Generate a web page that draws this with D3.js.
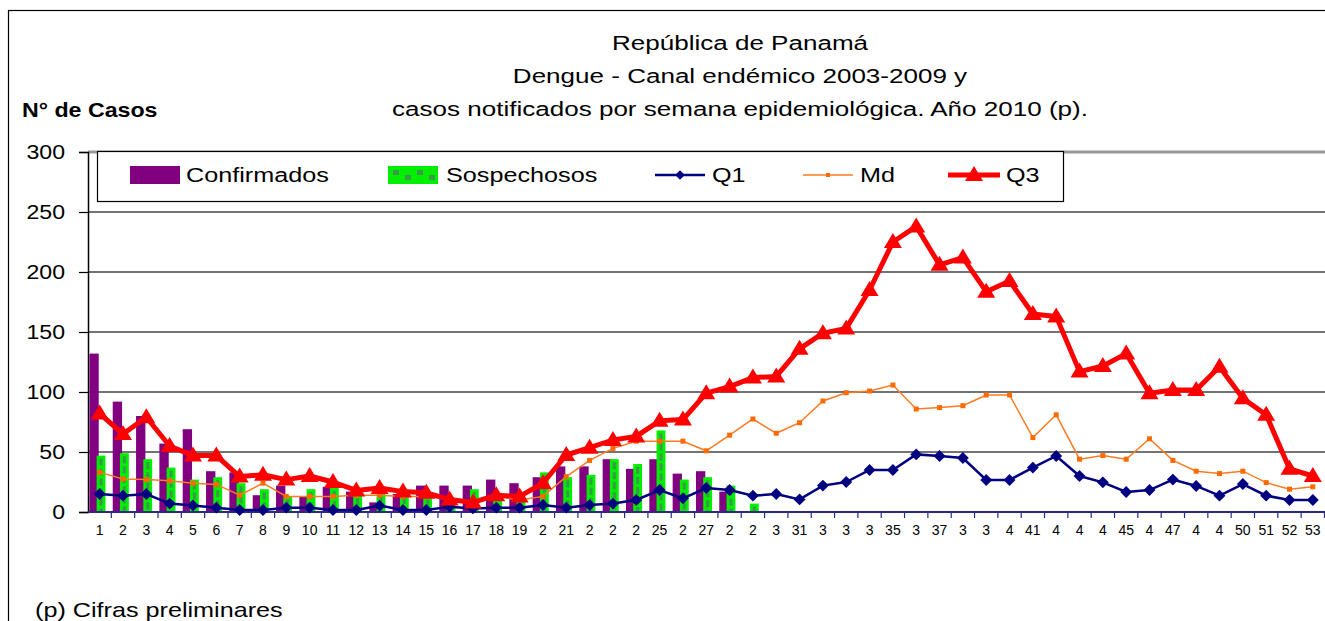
<!DOCTYPE html>
<html><head><meta charset="utf-8">
<script src="https://cdn.jsdelivr.net/npm/d3@7"></script>
<style>body{margin:0;background:#fff}svg{display:block}text{font-family:"Liberation Sans",Arial,sans-serif}</style>
</head><body><svg id="c" width="1325" height="621"></svg>
<script>
const weeks = d3.range(1, 54);
const weekLabels = ["1","2","3","4","5","6","7","8","9","10","11","12","13","14","15","16","17","18","19","2","21","2","2","2","25","2","27","2","2","3","31","3","3","3","35","3","37","3","3","4","41","4","4","4","45","4","47","4","4","50","51","52","53"];
const confirmados = [132,92,80,57,69,34,33,14,22,13,21,17,8,15,22,22,22,27,24,29,38,38,44,36,44,32,34,17,null];
const sospechosos = [47,49,44,37,27,29,24,19,13,19,20,14,17,15,13,7,19,10,13,33,29,31,44,40,68,27,29,22,7];
const q1 = [15,13.6,15,7,5.5,3.6,1.7,1.7,3.6,3.6,1.7,1.7,5.3,1.7,1.7,4.4,3,3.6,3.6,5.8,3.6,5.8,7,10,18.3,11.4,20,18.3,13.6,15,10.5,22,25,35,35,48,46.7,45,26.7,26.7,37,46.7,30,24.7,16.7,18.3,27,21.7,13.6,23.3,13.6,10,10];
const md = [33,27.5,27,26,24,23,14,24,13,13,13,14,14,13,13,10.5,8.5,13,10,13,29.5,43,53,59,59,59,51,64,77.5,65.6,74.4,92.5,99.4,100.8,105.8,85.8,87,88.6,97.5,97.5,62,81,44,47,44,61,43,34,32,34,24.5,19,21];
const q3 = [82,65,79,55,47,47,29.5,31,27,30,25,18,20,17,16,10.5,8,14,13,24,47.5,53.6,60,63,76,77,99,104.5,112,113,136,149,153,185,225,238,206,212,183.6,192.5,165,163,117,121.7,132,99,101.7,101.7,121,94.7,81,36,30];
const yTicks = [0,50,100,150,200,250,300];
const titleLines = ["República de Panamá","Dengue - Canal endémico 2003-2009 y","casos notificados por semana epidemiológica. Año 2010 (p)."];

const svg = d3.select("#c");
const W = 1325;
const SX = 1.2; // horizontal stretch of the text in the original
const x = d3.scaleBand().domain(weeks).range([88, 88 + 53 * 23.33]).padding(0);
const y = d3.scaleLinear().domain([0, 300]).range([512, 152]);
const bw = x.bandwidth();
const cx = w => x(w) + bw / 2;
const place = (sel, px, py, sx) => sel.attr("x", 0).attr("y", 0).attr("transform", `translate(${px},${py}) scale(${sx},1)`);

// outer border
svg.append("rect").attr("x", 8.5).attr("y", 10.5).attr("width", 1340).attr("height", 640)
  .attr("fill", "none").attr("stroke", "#000").attr("stroke-width", 1.2);

// titles
titleLines.forEach((t, i) => place(svg.append("text").attr("text-anchor", "middle").attr("font-size", 21).text(t), 740, 50 + i * 33, 1.24));
place(svg.append("text").attr("font-size", 20).attr("font-weight", "bold").text("N° de Casos"), 22, 117, 1.16);
place(svg.append("text").attr("font-size", 20).text("(p) Cifras preliminares"), 35, 617, 1.26);

// gridlines
svg.append("g").selectAll("line").data(yTicks.filter(t => t > 0)).join("line")
  .attr("x1", 88).attr("x2", W).attr("y1", d => y(d)).attr("y2", d => y(d))
  .attr("stroke", d => d === 300 ? "#999" : "#444").attr("stroke-width", d => d === 300 ? 3 : 1.3);

// y axis
const ya = svg.append("g").attr("transform", "translate(88,0)")
  .call(d3.axisLeft(y).tickValues(yTicks).tickSize(9).tickPadding(14));
ya.select(".domain").attr("stroke", "#000").attr("stroke-width", 1.5);
ya.selectAll(".tick line").attr("stroke", "#000").attr("stroke-width", 1.2);
ya.selectAll("text").attr("font-size", 21).attr("fill", "#000").attr("font-family", '"Liberation Sans",Arial,sans-serif')
  .attr("x", -23 / 1.1).attr("transform", "scale(1.1,1)");

// bars
svg.append("g").selectAll("rect").data(weeks.filter((w, i) => confirmados[i] != null)).join("rect")
  .attr("x", w => x(w) + bw * 0.06).attr("width", bw * 0.40)
  .attr("y", w => y(confirmados[w - 1])).attr("height", w => y(0) - y(confirmados[w - 1]))
  .attr("fill", "#800080");
const gb = svg.append("g");
const sw = weeks.filter((w, i) => sospechosos[i] != null);
gb.selectAll("rect").data(sw).join("rect")
  .attr("x", w => x(w) + bw * 0.37).attr("width", bw * 0.38)
  .attr("y", w => y(sospechosos[w - 1])).attr("height", w => y(0) - y(sospechosos[w - 1]))
  .attr("fill", "#00ee00");
gb.selectAll("line").data(sw).join("line")
  .attr("x1", w => x(w) + bw * 0.56).attr("x2", w => x(w) + bw * 0.56)
  .attr("y1", w => y(sospechosos[w - 1]) + 3).attr("y2", y(0))
  .attr("stroke", "#3a9a4a").attr("stroke-width", 3).attr("stroke-dasharray", "7,3");

// x axis
svg.append("line").attr("x1", 88).attr("x2", W).attr("y1", 512).attr("y2", 512)
  .attr("stroke", "#2a2a8a").attr("stroke-width", 2);
svg.append("g").selectAll("line").data(weeks).join("line")
  .attr("x1", w => x(w) + bw).attr("x2", w => x(w) + bw).attr("y1", 512).attr("y2", 518)
  .attr("stroke", "#2a2a8a").attr("stroke-width", 1.2);
const xa = svg.append("g").attr("transform", "translate(0,512)")
  .call(d3.axisBottom(x).tickSize(0).tickPadding(13).tickFormat(w => weekLabels[w - 1]));
xa.select(".domain").remove();
xa.selectAll("text").attr("font-size", 14).attr("fill", "#000").attr("font-family", '"Liberation Sans",Arial,sans-serif');

// lines
const lineGen = arr => d3.line().x(w => cx(w)).y(w => y(arr[w - 1]))(weeks);
svg.append("path").attr("d", lineGen(q1)).attr("fill", "none").attr("stroke", "#000080").attr("stroke-width", 2.5);
svg.append("g").selectAll("path").data(weeks).join("path")
  .attr("d", d3.symbol(d3.symbolDiamond2, 90)).attr("transform", w => `translate(${cx(w)},${y(q1[w - 1])})`).attr("fill", "#000080");
svg.append("path").attr("d", lineGen(md)).attr("fill", "none").attr("stroke", "#ff7a20").attr("stroke-width", 1.5);
svg.append("g").selectAll("rect").data(weeks).join("rect")
  .attr("x", w => cx(w) - 2.5).attr("y", w => y(md[w - 1]) - 2.5).attr("width", 5).attr("height", 5).attr("fill", "#ff6a00");
svg.append("path").attr("d", lineGen(q3)).attr("fill", "none").attr("stroke", "#ff0000").attr("stroke-width", 5).attr("stroke-linejoin", "round");
svg.append("g").selectAll("path").data(weeks).join("path")
  .attr("d", "M0,-9L9,6L-9,6Z").attr("transform", w => `translate(${cx(w)},${y(q3[w - 1])})`).attr("fill", "#ff0000");

// legend
const lg = svg.append("g");
lg.append("rect").attr("x", 97.5).attr("y", 151.5).attr("width", 966).attr("height", 50).attr("fill", "#fff").attr("stroke", "#000").attr("stroke-width", 1.2);
const ly = 175;
lg.append("rect").attr("x", 130).attr("y", 166).attr("width", 50).attr("height", 18).attr("fill", "#800080");
lg.append("rect").attr("x", 388).attr("y", 166).attr("width", 50).attr("height", 18).attr("fill", "#00ee00");
[0,1,2,3].forEach(k => lg.append("rect").attr("x", 393 + k * 12).attr("y", 170 + (k % 2) * 5).attr("width", 6).attr("height", 5).attr("fill", "#3a9a4a"));
lg.append("line").attr("x1", 655).attr("x2", 705).attr("y1", ly).attr("y2", ly).attr("stroke", "#000080").attr("stroke-width", 2.5);
lg.append("path").attr("d", d3.symbol(d3.symbolDiamond2, 60)).attr("transform", `translate(680,${ly})`).attr("fill", "#000080");
lg.append("line").attr("x1", 803).attr("x2", 853).attr("y1", ly).attr("y2", ly).attr("stroke", "#ff7a20").attr("stroke-width", 1.5);
lg.append("rect").attr("x", 826).attr("y", ly - 2).attr("width", 4).attr("height", 4).attr("fill", "#ff6a00");
lg.append("line").attr("x1", 948).attr("x2", 1000).attr("y1", ly).attr("y2", ly).attr("stroke", "#ff0000").attr("stroke-width", 5);
lg.append("path").attr("d", "M0,-9L9,6L-9,6Z").attr("transform", `translate(974,${ly})`).attr("fill", "#ff0000");
const legTexts = [["Confirmados", 186], ["Sospechosos", 446], ["Q1", 712], ["Md", 860], ["Q3", 1006]];
legTexts.forEach(d => place(lg.append("text").attr("font-size", 21).text(d[0]), d[1], ly + 7, SX));
</script></body></html>
